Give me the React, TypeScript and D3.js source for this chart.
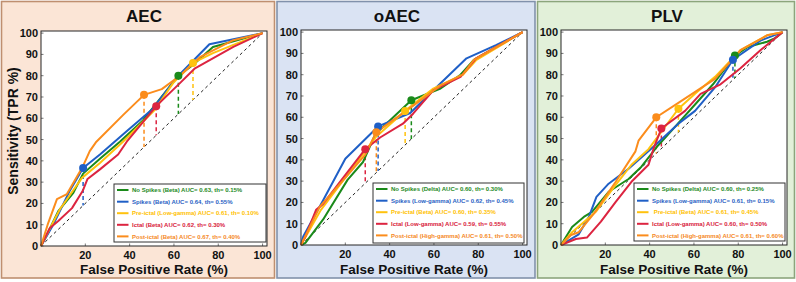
import React from 'react';
import * as d3 from 'd3';

type Pt = [number, number];

const xTicks = [20, 40, 60, 80, 100];
const yTicks = [0, 10, 20, 30, 40, 50, 60, 70, 80, 90, 100];
const panelTitles = ['AEC', 'oAEC', 'PLV'];
const seriesColors = ['#1a8a1a', '#1f5fc6', '#ffc20e', '#dc2440', '#fb8c1c'];
const legendTextColors = ['#1e8a1e', '#2a5fc4', '#ffbf00', '#d8203a', '#f5891f'];

// AEC
const aecNoSpikes: Pt[] = [[0, 0], [3, 6], [7.8, 16.4], [14.6, 25], [19, 34], [26.6, 41], [35.6, 49], [46, 59], [62, 80], [68.6, 85], [77.6, 93.5], [100, 100]];
const aecSpikes: Pt[] = [[0, 0], [5.5, 10], [13, 26], [19, 36.6], [26.6, 43], [39.3, 54.5], [50, 64], [62, 80], [76, 94.8], [100, 100]];
const aecPreIctal: Pt[] = [[0, 0], [2.7, 5.6], [8.6, 17.4], [18.5, 32], [26.6, 39], [37, 49], [51.4, 64], [59.6, 76.5], [68.6, 86], [77.6, 90.6], [100, 100]];
const aecIctal: Pt[] = [[0, 0], [4, 8.5], [7.8, 11.7], [14, 17.8], [18.8, 25.8], [21, 31.5], [26.6, 36], [34.8, 43], [38.7, 49], [52, 65.7], [62.7, 76.5], [69.5, 83.5], [86.8, 93.5], [100, 100]];
const aecPostIctal: Pt[] = [[0, 0], [3, 10], [7.2, 22], [11.7, 24.4], [19, 37.6], [22, 44.6], [25, 49], [37, 61.5], [46.5, 71], [54.5, 73.7], [62.7, 80], [71.7, 88.7], [86.8, 96.7], [100, 100]];
const aecMarkers: Pt[] = [[62, 80], [19, 36.6], [68.6, 86], [52, 65.7], [46.5, 71]];
const aecLegend = [
  'No Spikes (Beta) AUC= 0.63, th= 0.15%',
  'Spikes (Beta) AUC= 0.64, th= 0.55%',
  'Pre-ictal (Low-gamma) AUC= 0.61, th= 0.10%',
  'Ictal (Beta) AUC= 0.62, th= 0.30%',
  'Post-ictal (Beta) AUC= 0.67, th= 0.40%',
];

// oAEC
const oaecNoSpikes: Pt[] = [[0, 0], [2, 1], [10, 12], [21, 30.6], [28, 39], [33.5, 52], [49.8, 68], [63, 73.5], [72, 80], [78, 87], [100, 100]];
const oaecSpikes: Pt[] = [[0, 0], [1, 4], [10, 21], [20, 40.5], [34.8, 55.7], [49.3, 62], [63, 76], [74.7, 87.7], [88, 93.9], [100, 100]];
const oaecPreIctal: Pt[] = [[0, 0], [9, 16.5], [21, 33], [34, 51], [47, 63], [59.7, 73.5], [73, 80], [79, 86.8], [100, 100]];
const oaecIctal: Pt[] = [[0, 0], [2, 4], [6.8, 16.5], [10, 19.3], [17.6, 29.7], [29, 45], [35.7, 50.5], [46, 57], [50.7, 61.8], [59.7, 72.6], [72, 79], [79, 87.7], [100, 100]];
const oaecPostIctal: Pt[] = [[0, 0], [8.5, 18], [20.4, 32], [29, 42.5], [34, 53], [50.7, 65.5], [63, 75], [73, 80], [78, 87], [100, 100]];
const oaecMarkers: Pt[] = [[49.8, 68], [34.8, 55.7], [47, 63], [29, 45], [34, 53]];
const oaecLegend = [
  'No Spikes (Delta) AUC= 0.60, th= 0.30%',
  'Spikes (Low-gamma) AUC= 0.62, th= 0.45%',
  'Pre-ictal (Beta) AUC= 0.60, th= 0.35%',
  'Ictal (Low-gamma) AUC= 0.59, th= 0.55%',
  'Post-ictal (High-gamma) AUC= 0.61, th= 0.50%',
];

// PLV
const plvNoSpikes: Pt[] = [[0, 0], [5, 8.5], [10.3, 13.2], [14, 15.6], [21.5, 25], [30.5, 31], [36.3, 36.8], [44, 47], [48.4, 52], [60.5, 66], [68.6, 75.5], [78.5, 89], [84.3, 93], [93, 95.5], [96.4, 97], [100, 100]];
const plvSpikes: Pt[] = [[0, 0], [8, 5], [12.5, 13], [16, 22.6], [21.5, 28.8], [30.5, 35.8], [42.6, 47], [53, 57], [60.5, 63], [69.5, 74], [77.6, 87], [90, 96], [100, 100]];
const plvPreIctal: Pt[] = [[0, 0], [5, 6], [15.7, 15.6], [24.7, 28.3], [31.8, 37.7], [39.5, 45], [53, 64], [60.5, 71], [69.5, 79], [81, 91.5], [93, 98.5], [100, 100]];
const plvIctal: Pt[] = [[0, 0], [6.7, 2.8], [11.7, 3.5], [18, 11], [24.7, 20.3], [31.8, 29.7], [39.5, 37.7], [42, 46], [45.3, 54.7], [56, 63], [63, 71], [72, 75.5], [81, 83], [90, 91.5], [100, 100]];
const plvPostIctal: Pt[] = [[0, 0], [4.5, 4.7], [8, 6], [15, 15], [24.7, 29.7], [33.6, 44], [35, 49], [43, 60], [54, 67.5], [69.5, 78], [81, 91.5], [93, 98.5], [100, 100]];
const plvMarkers: Pt[] = [[78.5, 89], [77.6, 87], [53, 64], [45.3, 54.7], [43, 60]];
const plvLegend = [
  'No Spikes (Delta) AUC= 0.60, th= 0.25%',
  'Spikes (Low-gamma) AUC= 0.61, th= 0.15%',
  ' Pre-ictal (Beta) AUC= 0.61, th= 0.45%',
  'Ictal (Low-gamma) AUC= 0.60, th= 0.50%',
  'Post-ictal (High-gamma) AUC= 0.61, th= 0.60%',
];

const FONT = '"Liberation Sans", Arial, Helvetica, sans-serif';

const panels = [
  {
    title: panelTitles[0], bx: 1.5, bw: 273, fill: '#fbe5d6', stroke: '#bf8f70',
    left: 41, right: 267, top: 31, bottom: 246, titleX: 144,
    lg: { x: 114, y: 184, w: 152, h: 58 }, ylabel: true,
    curves: [aecNoSpikes, aecSpikes, aecPreIctal, aecIctal, aecPostIctal],
    markers: aecMarkers, labels: aecLegend,
  },
  {
    title: panelTitles[1], bx: 277, bw: 258, fill: '#dae3f3', stroke: '#8191ab',
    left: 301, right: 527, top: 30, bottom: 245, titleX: 397,
    lg: { x: 373, y: 183, w: 151, h: 60 }, ylabel: false,
    curves: [oaecNoSpikes, oaecSpikes, oaecPreIctal, oaecIctal, oaecPostIctal],
    markers: oaecMarkers, labels: oaecLegend,
  },
  {
    title: panelTitles[2], bx: 537.5, bw: 257, fill: '#e2f0d9', stroke: '#8ca57c',
    left: 561, right: 787, top: 30, bottom: 245, titleX: 667,
    lg: { x: 634, y: 183, w: 151, h: 58 }, ylabel: false,
    curves: [plvNoSpikes, plvSpikes, plvPreIctal, plvIctal, plvPostIctal],
    markers: plvMarkers, labels: plvLegend,
  },
];

function Panel({ p }: { p: typeof panels[number] }) {
  const x = d3.scaleLinear().domain([0, 102]).range([p.left, p.right]);
  const y = d3.scaleLinear().domain([0, 101]).range([p.bottom, p.top]);
  const line = d3.line<Pt>().x(d => x(d[0])).y(d => y(d[1]));
  const rowOffsets = [6, 17.7, 29.2, 40.8, 52.4];
  return (
    <g>
      <rect x={p.bx} y={1.5} width={p.bw} height={276.5} fill={p.fill} stroke={p.stroke} strokeWidth={1.6} />
      <rect x={p.left} y={p.top} width={p.right - p.left} height={p.bottom - p.top} fill="#ffffff" />
      <text x={p.titleX} y={22} textAnchor="middle" fontFamily={FONT} fontWeight="bold" fontSize={17} fill="#111">{p.title}</text>
      {/* diagonal */}
      <path d={line([[0, 0], [100, 100]]) || ''} fill="none" stroke="#222" strokeWidth={1} strokeDasharray="3,3" />
      {/* ticks */}
      {yTicks.map(t => (
        <g key={'y' + t}>
          <line x1={p.left} x2={p.left + 2.5} y1={y(t)} y2={y(t)} stroke="#555" strokeWidth={0.8} />
          <text x={p.left - 3} y={y(t) + 4} textAnchor="end" fontFamily={FONT} fontWeight="bold" fontSize={11} fill="#111">{t}</text>
        </g>
      ))}
      {xTicks.map(t => (
        <g key={'x' + t}>
          <line x1={x(t)} x2={x(t)} y1={p.bottom} y2={p.bottom - 2.5} stroke="#555" strokeWidth={0.8} />
          <text x={x(t)} y={p.bottom + 12.5} textAnchor="middle" fontFamily={FONT} fontWeight="bold" fontSize={11} fill="#111">{t}</text>
        </g>
      ))}
      {/* dashed youden lines */}
      {p.markers.map((m, i) => (
        <line key={'d' + i} x1={x(m[0])} x2={x(m[0])} y1={y(m[1])} y2={y(m[0])} stroke={seriesColors[i]} strokeWidth={1.5} strokeDasharray="4,3" />
      ))}
      {/* curves */}
      {p.curves.map((c, i) => (
        <path key={'c' + i} d={line(c) || ''} fill="none" stroke={seriesColors[i]} strokeWidth={2} strokeLinejoin="round" />
      ))}
      {p.markers.map((m, i) => (
        <circle key={'m' + i} cx={x(m[0])} cy={y(m[1])} r={4} fill={seriesColors[i]} />
      ))}
      <rect x={p.left} y={p.top} width={p.right - p.left} height={p.bottom - p.top} fill="none" stroke="#262626" strokeWidth={1} />
      <text x={(p.left + p.right) / 2} y={273.5} textAnchor="middle" fontFamily={FONT} fontWeight="bold" fontSize={13.5} fill="#111">False Positive Rate (%)</text>
      {p.ylabel && (
        <text transform={`translate(17.5,131) rotate(-90)`} textAnchor="middle" fontFamily={FONT} fontWeight="bold" fontSize={14} fill="#111">Sensitivity (TPR %)</text>
      )}
      {/* legend */}
      <rect x={p.lg.x} y={p.lg.y} width={p.lg.w} height={p.lg.h} fill="#ffffff" stroke="#333" strokeWidth={1} />
      {p.labels.map((l, i) => (
        <g key={'l' + i}>
          <line x1={p.lg.x + 3} x2={p.lg.x + 14.5} y1={p.lg.y + rowOffsets[i]} y2={p.lg.y + rowOffsets[i]} stroke={seriesColors[i]} strokeWidth={2} />
          <text x={p.lg.x + 18} y={p.lg.y + rowOffsets[i] + 2.2} fontFamily={FONT} fontWeight="bold" fontSize={6} fill={legendTextColors[i]} style={{ whiteSpace: 'pre' }}>{l}</text>
        </g>
      ))}
    </g>
  );
}

export default function App() {
  return (
    <svg width={796} height={282} viewBox="0 0 796 282" style={{ position: 'fixed', left: 0, top: 0, background: '#ffffff' }}>
      {panels.map((p, i) => <Panel key={i} p={p} />)}
    </svg>
  );
}
